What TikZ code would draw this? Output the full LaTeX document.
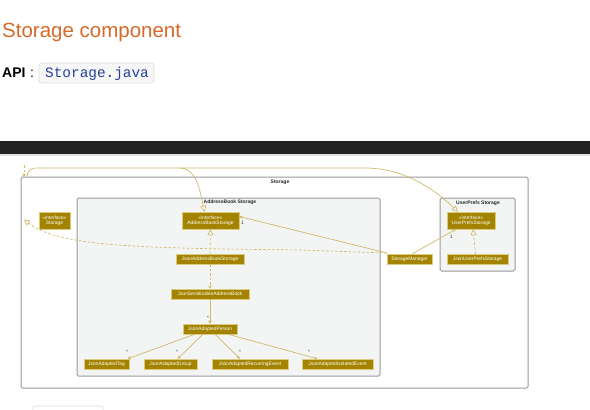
\documentclass[tikz,border=0pt]{standalone}
\usepackage{fontspec}
\setmainfont{Liberation Sans}
\newfontfamily\monofont{Liberation Mono}
\usetikzlibrary{arrows.meta}
\definecolor{titlecol}{HTML}{D6692A}
\definecolor{codecol}{HTML}{25409A}
\definecolor{clsfill}{HTML}{A38300}
\definecolor{clsborder}{HTML}{DCCB7C}
\definecolor{edgecol}{HTML}{D0B968}
\definecolor{pkgborder}{HTML}{9A9A9A}
\definecolor{pkgfill}{HTML}{F3F5F5}
\definecolor{barcol}{HTML}{232323}
\tikzset{
  cls/.style={draw=clsborder, line width=0.4pt, fill=clsfill, text=white,
    font=\fontsize{4.9}{5.4}\selectfont, inner sep=0pt, align=center},
  pkg/.style={draw=pkgborder, line width=1pt, rounded corners=1.5pt},
  pkglabel/.style={font=\bfseries\fontsize{5}{5.5}\selectfont, inner sep=0pt, text=black!85},
  rel/.style={draw=edgecol, line width=0.7pt},
  realize/.style={rel, dashed, dash pattern=on 2.5pt off 2pt, -{Triangle[open, length=6pt, width=6pt, fill=white]}},
  extend/.style={rel, -{Triangle[open, length=6pt, width=6pt, fill=white]}},
  assoc/.style={rel, -{Stealth[length=3.5pt, width=3.5pt]}},
  depend/.style={rel, dashed, dash pattern=on 2.5pt off 2pt, -{Stealth[length=3.5pt, width=3.5pt]}},
  mult/.style={font=\fontsize{4.8}{5}\selectfont, inner sep=0pt, text=black!80}
}
\begin{document}
\begin{tikzpicture}[x=1pt, y=-1pt]
\useasboundingbox (0,0) rectangle (590,410);
% page header
\node[anchor=base west, inner sep=0pt, text=titlecol, font=\fontsize{20.5}{24}\selectfont] (title) at (2,37) {Storage component};
\node[anchor=base west, inner sep=0pt, font=\bfseries\fontsize{14}{16}\selectfont] (api) at (2,77) {API};
\node[anchor=base west, inner sep=0pt, font=\fontsize{14}{16}\selectfont] (colon) at (30,77) {:};
\draw[draw=black!13, fill=black!3, rounded corners=2.5pt, line width=0.7pt] (39,63) rectangle (154,83);
\node[anchor=base west, inner sep=0pt, text=codecol, font=\monofont\fontsize{14.4}{16}\selectfont] (code) at (45,77) {Storage.java};
\fill[barcol] (0,141) rectangle (590,154);
\fill[black!12] (0,154) rectangle (590,155.5);
\draw[draw=black!12, rounded corners=2.5pt, line width=0.7pt] (33,406) rectangle (103,415);
% packages
\draw[pkg, fill=white] (21,177) rectangle (528,388);
\node[pkglabel] (lstorage) at (280,182) {Storage};
\draw[pkg, fill=pkgfill] (77,198) rectangle (380,376);
\node[pkglabel] (lab) at (230,202.5) {AddressBook Storage};
\draw[pkg, fill=pkgfill] (440,198) rectangle (515,271);
\node[pkglabel] (lup) at (478,203) {UserPrefs Storage};
% classes
\node[cls, minimum width=31pt, minimum height=17pt] (storageI) at (54.5,220.5) {«interface»\\Storage};
\node[cls, minimum width=57pt, minimum height=17pt] (abI) at (210.5,220.5) {«interface»\\AddressBookStorage};
\node[cls, minimum width=48pt, minimum height=17pt] (upI) at (471,220.5) {«interface»\\UserPrefsStorage};
\node[cls, minimum width=68pt, minimum height=10pt] (jabs) at (210,259) {JsonAddressBookStorage};
\node[cls, minimum width=78pt, minimum height=10pt] (jsab) at (210,294) {JsonSerializableAddressBook};
\node[cls, minimum width=54pt, minimum height=10pt] (jap) at (210,329) {JsonAdaptedPerson};
\node[cls, minimum width=45pt, minimum height=10pt] (jat) at (106.5,364) {JsonAdaptedTag};
\node[cls, minimum width=53pt, minimum height=10pt] (jag) at (170.5,364) {JsonAdaptedGroup};
\node[cls, minimum width=76pt, minimum height=10pt] (jare) at (250,364) {JsonAdaptedRecurringEvent};
\node[cls, minimum width=71pt, minimum height=10pt] (jaie) at (337.5,364) {JsonAdaptedIsolatedEvent};
\node[cls, minimum width=45pt, minimum height=10pt] (sm) at (409.5,259) {StorageManager};
\node[cls, minimum width=61pt, minimum height=10pt] (jups) at (477.5,259) {JsonUserPrefsStorage};
% helper coordinates
\coordinate (topA) at (24,165);
\coordinate (topB) at (24,177);
\coordinate (startS) at (27,177);
\coordinate (fork) at (180,168);
\coordinate (smL) at (387,253);
\coordinate (stTip) at (24,219.5);
% edges
\draw[depend] (topA) -- (topB);
\draw[rel] (startS) .. controls (28,170) and (30,168) .. (38,168) -- (fork);
\draw[extend] (fork) .. controls (196,168) and (200,190) .. ([xshift=-6pt]abI.north);
\draw[extend] (fork) -- (365,168) .. controls (400,168) and (430,185) .. ([xshift=-13pt]upI.north);
\draw[realize] (smL) -- (300,250) .. controls (150,248) and (60,248) .. (stTip);
\draw[realize] (jabs.north) -- (abI.south);
\draw[realize] ([xshift=-2pt]jups.north) -- ([xshift=2pt]upI.south);
\draw[depend] (jabs.south) -- (jsab.north);
\draw[assoc] (jsab.south) -- (jap.north);
\draw[assoc] (smL) -- ([yshift=4pt]abI.east);
\draw[assoc] ([xshift=3pt]sm.north) -- ([xshift=-15pt]upI.south);
\draw[assoc] ([xshift=-15pt]jap.south) -- ([xshift=21pt]jat.north);
\draw[assoc] ([xshift=-7pt]jap.south) -- ([xshift=7pt]jag.north);
\draw[assoc] ([xshift=5pt]jap.south) -- ([xshift=-10pt]jare.north);
\draw[assoc] ([xshift=18pt]jap.south) -- ([xshift=-20pt]jaie.north);
% multiplicities
\node[mult] (m1) at (242.5,222.5) {1};
\node[mult] (m2) at (451.5,236.5) {1};
\node[mult] (m3) at (208,317.5) {*};
\node[mult] (m4) at (127,352) {*};
\node[mult] (m5) at (177,352) {*};
\node[mult] (m6) at (240,352) {*};
\node[mult] (m7) at (309,352) {*};
\end{tikzpicture}
\end{document}
